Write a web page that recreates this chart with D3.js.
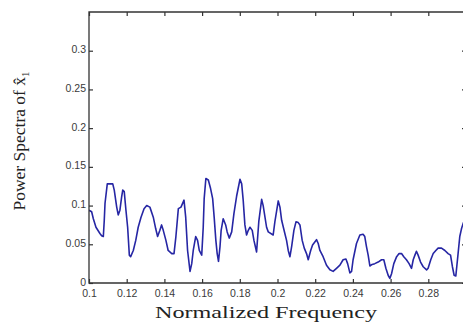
<!DOCTYPE html>
<html>
<head>
<meta charset="utf-8">
<script src="https://cdn.jsdelivr.net/npm/d3@7"></script>
<style>
  html, body { margin: 0; padding: 0; background: #fff; }
  svg { display: block; }
</style>
</head>
<body>
<script>
// ---- data ----
const freq = [
  0.1000,0.1014,0.1023,0.1037,0.1058,0.1067,0.1076,0.1081,0.1085,0.1097,
  0.1126,0.1134,0.1147,0.1155,0.1164,0.1173,0.1179,0.1187,0.1196,0.1205,
  0.1214,0.1221,0.1235,0.1248,0.1261,0.1276,0.1292,0.1306,0.1323,0.1341,
  0.1354,0.1364,0.1376,0.1385,0.1394,0.1408,0.1420,0.1439,0.1451,0.1461,
  0.1474,0.1488,0.1504,0.1513,0.1523,0.1536,0.1545,0.1553,0.1566,0.1576,
  0.1585,0.1598,0.1606,0.1611,0.1620,0.1633,0.1645,0.1656,0.1664,0.1673,
  0.1680,0.1687,0.1695,0.1701,0.1712,0.1725,0.1733,0.1744,0.1757,0.1769,
  0.1783,0.1801,0.1810,0.1818,0.1827,0.1836,0.1845,0.1854,0.1866,0.1875,
  0.1889,0.1901,0.1916,0.1924,0.1942,0.1951,0.1977,0.1986,0.2004,0.2013,
  0.2022,0.2039,0.2048,0.2057,0.2066,0.2075,0.2087,0.2098,0.2110,0.2119,
  0.2131,0.2142,0.2154,0.2163,0.2176,0.2186,0.2198,0.2207,0.2216,0.2225,
  0.2242,0.2260,0.2278,0.2295,0.2313,0.2331,0.2348,0.2363,0.2372,0.2384,
  0.2393,0.2401,0.2419,0.2437,0.2454,0.2463,0.2472,0.2481,0.2490,0.2502,
  0.2516,0.2534,0.2552,0.2564,0.2575,0.2587,0.2596,0.2605,0.2617,0.2632,
  0.2645,0.2658,0.2670,0.2684,0.2698,0.2711,0.2720,0.2729,0.2737,0.2746,
  0.2759,0.2773,0.2791,0.2799,0.2813,0.2826,0.2840,0.2852,0.2870,0.2888,
  0.2905,0.2918,0.2928,0.2937,0.2946,0.2958,0.2967,0.2976,0.2985,0.3000
];
const power = [
  0.094,0.092,0.083,0.072,0.064,0.061,0.060,0.081,0.103,0.128,
  0.128,0.120,0.098,0.088,0.094,0.111,0.120,0.118,0.094,0.072,
  0.036,0.034,0.042,0.055,0.072,0.085,0.096,0.100,0.098,0.085,
  0.070,0.060,0.068,0.075,0.068,0.055,0.042,0.038,0.038,0.060,
  0.096,0.098,0.107,0.085,0.042,0.015,0.025,0.042,0.060,0.055,
  0.042,0.036,0.072,0.109,0.135,0.133,0.122,0.109,0.085,0.055,
  0.038,0.028,0.047,0.068,0.083,0.075,0.066,0.058,0.066,0.090,
  0.112,0.134,0.128,0.107,0.075,0.062,0.068,0.072,0.068,0.055,
  0.040,0.080,0.108,0.100,0.072,0.066,0.062,0.079,0.106,0.098,
  0.081,0.064,0.055,0.042,0.034,0.047,0.068,0.079,0.078,0.075,
  0.055,0.045,0.038,0.030,0.042,0.049,0.053,0.056,0.051,0.042,
  0.034,0.023,0.017,0.015,0.019,0.023,0.030,0.031,0.025,0.013,
  0.015,0.030,0.051,0.062,0.063,0.060,0.047,0.036,0.022,0.024,
  0.025,0.027,0.030,0.030,0.019,0.010,0.006,0.012,0.025,0.034,
  0.038,0.038,0.034,0.030,0.025,0.019,0.030,0.036,0.041,0.036,
  0.027,0.021,0.017,0.019,0.030,0.038,0.042,0.045,0.045,0.042,
  0.038,0.036,0.021,0.010,0.009,0.038,0.060,0.070,0.077,0.085
];
const xTicks = [0.1,0.12,0.14,0.16,0.18,0.2,0.22,0.24,0.26,0.28];
const xTickLabels = ["0.1","0.12","0.14","0.16","0.18","0.2","0.22","0.24","0.26","0.28"];
const yTicks = [0,0.05,0.1,0.15,0.2,0.25,0.3];
const yTickLabels = ["0","0.05","0.1","0.15","0.2","0.25","0.3"];
const xTitle = "Normalized Frequency";
const yTitle = "Power Spectra of ";

// ---- layout ----
const W = 463, H = 326;
const L = 89, R = 466, T = 12, B = 283;

const svg = d3.select("body").append("svg").attr("width", W).attr("height", H);
svg.append("rect").attr("width", W).attr("height", H).attr("fill", "#fff");

const x = d3.scaleLinear().domain([0.1, 0.3]).range([L, R]);
const y = d3.scaleLinear().domain([0, 0.35]).range([B, T]);

svg.append("clipPath").attr("id", "clip")
  .append("rect").attr("x", L).attr("y", T).attr("width", R - L).attr("height", B - T);

// data line
const line = d3.line().x((d, i) => x(freq[i])).y(d => y(d));
svg.append("path")
  .datum(power)
  .attr("clip-path", "url(#clip)")
  .attr("fill", "none")
  .attr("stroke", "#2626a4")
  .attr("stroke-width", 1.6)
  .attr("stroke-linejoin", "round")
  .attr("d", line);

const axisColor = "#333";
const tickFont = "'Liberation Sans', Arial, sans-serif";

function styleAxis(g) {
  g.select(".domain").remove();
  g.selectAll(".tick line").attr("stroke", axisColor).attr("stroke-width", 1.2);
  g.selectAll(".tick text").attr("fill", "#3a3a3a")
    .style("font-family", tickFont).style("font-size", "10.5px");
}

// bottom axis
svg.append("g").attr("transform", `translate(0,${B})`)
  .call(d3.axisBottom(x).tickValues(xTicks).tickSize(-4).tickPadding(7)
        .tickFormat((d, i) => xTickLabels[i]))
  .call(styleAxis);

// top axis (ticks only)
svg.append("g").attr("transform", `translate(0,${T})`)
  .call(d3.axisTop(x).tickValues(xTicks).tickSize(-4).tickFormat(""))
  .call(styleAxis);

// left axis
svg.append("g").attr("transform", `translate(${L},0)`)
  .call(d3.axisLeft(y).tickValues(yTicks).tickSize(-4).tickPadding(3)
        .tickFormat((d, i) => yTickLabels[i]))
  .call(styleAxis)
  .call(g => g.selectAll(".tick text").attr("dy", "0.2em"));

// right axis (ticks only)
svg.append("g").attr("transform", `translate(${R},0)`)
  .call(d3.axisRight(y).tickValues(yTicks).tickSize(-4).tickFormat(""))
  .call(styleAxis);

// frame
svg.append("path")
  .attr("d", `M${R},${T}H${L}V${B}H${R}V${T}`)
  .attr("fill", "none").attr("stroke", axisColor).attr("stroke-width", 1.3);

// axis titles
const serif = "'Liberation Serif', 'Times New Roman', serif";
svg.append("text")
  .attr("x", 266).attr("y", 318)
  .attr("text-anchor", "middle")
  .attr("textLength", 222).attr("lengthAdjust", "spacingAndGlyphs")
  .style("font-family", serif).style("font-size", "16px")
  .attr("fill", "#222")
  .text(xTitle);

const yt = svg.append("text")
  .attr("transform", "translate(25,141) rotate(-90)")
  .attr("text-anchor", "middle")
  .style("font-family", serif).style("font-size", "17.5px")
  .attr("fill", "#222");
yt.append("tspan").text(yTitle);
yt.append("tspan").text("x\u0302");
yt.append("tspan").attr("dy", 4).style("font-size", "11px").text("1");
</script>
</body>
</html>
